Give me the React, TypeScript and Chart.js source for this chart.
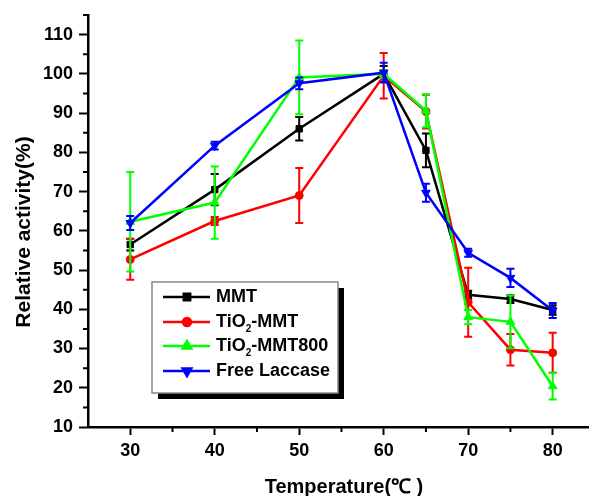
import React, { useEffect, useRef } from 'react';
import { Chart, registerables } from 'chart.js';
import { drawPoint } from 'chart.js/helpers';

Chart.register(...registerables);

// ---------- data ----------
const temperatures = [30, 40, 50, 60, 65, 70, 75, 80];
const seriesNames = ['MMT', 'TiO₂-MMT', 'TiO₂-MMT800', 'Free Laccase'];

const mmt = [56.5, 70.5, 86, 100, 80.5, 43.7, 42.6, 39.8];
const mmtErr = [1.5, 4, 3, 2, 4.3, 1, 1, 1.2];

const tio2Mmt = [52.7, 62.5, 69, 99.5, 90.4, 41.8, 29.7, 28.9];
const tio2MmtErr = [5.2, 1, 7, 5.8, 4.3, 8.8, 4, 5.1];

const tio2Mmt800 = [62.3, 67.2, 99.1, 100, 90.6, 38, 36.8, 20.4];
const tio2Mmt800Err = [12.7, 9.2, 9.4, 1, 4.2, 1.8, 6.7, 3.4];

const freeLaccase = [62, 81.7, 97.6, 100.3, 69.7, 54.4, 48, 39.7];
const freeLaccaseErr = [1.8, 1, 1.5, 2.5, 2.3, 1, 2.3, 1.9];

const xTicks = [30, 40, 50, 60, 70, 80];
const xMinorTicks = [35, 45, 55, 65, 75];
const yTicks = [10, 20, 30, 40, 50, 60, 70, 80, 90, 100, 110];
const yMinorTicks = [15, 25, 35, 45, 55, 65, 75, 85, 95, 105, 115];

const xTitle = 'Temperature(℃ )';
const yTitle = 'Relative activity(%)';

// ---------- styles ----------
const FONT = '"Liberation Sans", Arial, sans-serif';
const colors = ['#000000', '#ff0000', '#00ff00', '#0000ff'];
const pointStyles = ['rect', 'circle', 'triangle', 'triangle'];
const rotations = [0, 0, 0, 180];
const radii = [4.5, 4, 5, 5];
const values = [mmt, tio2Mmt, tio2Mmt800, freeLaccase];
const errors = [mmtErr, tio2MmtErr, tio2Mmt800Err, freeLaccaseErr];

const errorBarPlugin = {
  id: 'errorBars',
  beforeDatasetDraw(chart: any, args: any) {
    const i = args.index;
    const meta = args.meta;
    const ys = chart.scales.y;
    const ctx = chart.ctx;
    const err = errors[i];
    const vals = values[i];
    ctx.save();
    ctx.strokeStyle = colors[i];
    ctx.lineWidth = 2;
    meta.data.forEach((pt: any, j: number) => {
      const x = pt.x;
      const top = ys.getPixelForValue(vals[j] + err[j]);
      const bot = ys.getPixelForValue(vals[j] - err[j]);
      ctx.beginPath();
      ctx.moveTo(x, top);
      ctx.lineTo(x, bot);
      ctx.moveTo(x - 4, top);
      ctx.lineTo(x + 4, top);
      ctx.moveTo(x - 4, bot);
      ctx.lineTo(x + 4, bot);
      ctx.stroke();
    });
    ctx.restore();
  },
};

function drawLabel(ctx: any, text: string, x: number, y: number) {
  const parts = text.split('₂');
  let cx = x;
  parts.forEach((p, k) => {
    ctx.font = `bold 18px ${FONT}`;
    ctx.textBaseline = 'middle';
    ctx.fillText(p, cx, y);
    cx += ctx.measureText(p).width;
    if (k < parts.length - 1) {
      ctx.font = `bold 10px ${FONT}`;
      ctx.fillText('2', cx, y + 7);
      cx += ctx.measureText('2').width;
    }
  });
}

const decorPlugin = {
  id: 'decor',
  afterDraw(chart: any) {
    const ctx = chart.ctx;
    const xs = chart.scales.x;
    const ys = chart.scales.y;
    const area = chart.chartArea;
    ctx.save();
    // minor ticks
    ctx.strokeStyle = '#000';
    ctx.lineWidth = 2;
    ctx.beginPath();
    yMinorTicks.forEach((v) => {
      const y = ys.getPixelForValue(v);
      ctx.moveTo(area.left - 5, y);
      ctx.lineTo(area.left, y);
    });
    xMinorTicks.forEach((v) => {
      const x = xs.getPixelForValue(v);
      ctx.moveTo(x, area.bottom);
      ctx.lineTo(x, area.bottom + 5);
    });
    ctx.stroke();

    // axis titles
    ctx.fillStyle = '#000';
    ctx.font = `bold 20px ${FONT}`;
    ctx.textAlign = 'center';
    ctx.textBaseline = 'middle';
    ctx.fillText(xTitle, 344, 487);
    ctx.save();
    ctx.translate(24, 232);
    ctx.rotate(-Math.PI / 2);
    ctx.font = `bold 21px ${FONT}`;
    ctx.fillText(yTitle, 0, 0);
    ctx.restore();

    // legend
    const bx = 152, by = 282, bw = 186, bh = 111;
    ctx.fillStyle = '#000';
    ctx.fillRect(bx + 6, by + 6, bw, bh);
    ctx.fillStyle = '#fff';
    ctx.fillRect(bx, by, bw, bh);
    ctx.strokeStyle = '#888';
    ctx.lineWidth = 1.5;
    ctx.strokeRect(bx, by, bw, bh);
    const rows = [297, 322, 346, 371];
    seriesNames.forEach((name, i) => {
      const y = rows[i];
      ctx.strokeStyle = colors[i];
      ctx.fillStyle = colors[i];
      ctx.lineWidth = 2.5;
      ctx.beginPath();
      ctx.moveTo(163, y);
      ctx.lineTo(210, y);
      ctx.stroke();
      drawPoint(ctx, { pointStyle: pointStyles[i], radius: radii[i], rotation: rotations[i], borderWidth: 1 }, 187, y);
      ctx.fillStyle = '#000';
      ctx.textAlign = 'left';
      drawLabel(ctx, name, 216, y);
    });
    ctx.restore();
  },
};

export default function App() {
  const ref = useRef<HTMLCanvasElement>(null);
  useEffect(() => {
    if (!ref.current) return;
    const chart = new Chart(ref.current, {
      type: 'line',
      data: {
        labels: temperatures,
        datasets: seriesNames.map((name, i) => ({
          label: name,
          data: temperatures.map((t, j) => ({ x: t, y: values[i][j] })),
          order: seriesNames.length - 1 - i,
          borderColor: colors[i],
          backgroundColor: colors[i],
          borderWidth: 2.5,
          pointStyle: pointStyles[i],
          pointRotation: rotations[i],
          pointRadius: radii[i],
          pointBorderWidth: 1,
          pointBorderColor: colors[i],
          pointBackgroundColor: colors[i],
          tension: 0,
          fill: false,
          clip: false,
        })),
      },
      options: {
        animation: false,
        responsive: false,
        maintainAspectRatio: false,
        layout: { autoPadding: false, padding: { top: 15, left: 0, right: 0, bottom: 0 } },
        plugins: { legend: { display: false }, tooltip: { enabled: false } },
        scales: {
          x: {
            type: 'linear',
            min: 25,
            max: 84.3,
            afterBuildTicks: (s: any) => {
              s.ticks = xTicks.map((v) => ({ value: v }));
            },
            afterFit: (s: any) => {
              s.height = 69;
              s.paddingLeft = 0;
              s.paddingRight = 0;
            },
            grid: { drawOnChartArea: false, drawTicks: true, tickLength: 8, tickColor: '#000', tickWidth: 2 },
            border: { display: true, color: '#000', width: 2.5 },
            ticks: {
              color: '#000',
              padding: 5,
              maxRotation: 0,
              font: { family: FONT, size: 18, weight: 'bold' },
            },
          },
          y: {
            type: 'linear',
            min: 10,
            max: 115,
            afterBuildTicks: (s: any) => {
              s.ticks = yTicks.map((v) => ({ value: v }));
            },
            afterFit: (s: any) => {
              s.width = 88;
              s.paddingTop = 0;
              s.paddingBottom = 0;
            },
            grid: { drawOnChartArea: false, drawTicks: true, tickLength: 9, tickColor: '#000', tickWidth: 2 },
            border: { display: true, color: '#000', width: 2.5 },
            ticks: {
              color: '#000',
              padding: 6,
              font: { family: FONT, size: 18, weight: 'bold' },
            },
          },
        },
      },
      plugins: [errorBarPlugin, decorPlugin],
    } as any);
    return () => chart.destroy();
  }, []);
  return (
    <div style={{ position: 'absolute', left: 0, top: 0, width: 589, height: 496, background: '#fff' }}>
      <canvas ref={ref} width={589} height={496} style={{ width: 589, height: 496 }} />
    </div>
  );
}
